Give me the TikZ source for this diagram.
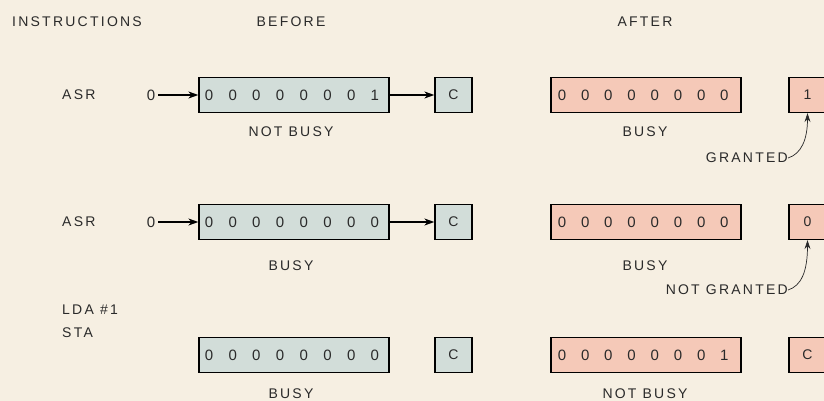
\documentclass[tikz,border=0pt]{standalone}
\usepackage{fontspec}
\setmainfont{Liberation Sans}[LetterSpace=16]
\usetikzlibrary{arrows.meta}
\definecolor{bg}{HTML}{F6EFE2}
\definecolor{bluefill}{HTML}{D2DDD9}
\definecolor{pinkfill}{HTML}{F5C9B8}
\definecolor{ink}{HTML}{2A2A2A}
\begin{document}
\begin{tikzpicture}[x=1pt,y=-1pt,
  lbl/.style={font=\fontsize{14}{14}\selectfont, text=ink, inner sep=0pt},
  dig/.style={font=\fontsize{15}{15}\selectfont, text=ink, inner sep=0pt},
  regbox/.style={draw=black, line width=1.3pt, minimum width=190pt, minimum height=35pt, inner sep=0pt},
  cbox/.style={draw=black, line width=1.3pt, minimum width=37pt, minimum height=35pt, inner sep=0pt, font=\fontsize{14}{14}\selectfont, text=ink},
  bl/.style={fill=bluefill},
  pk/.style={fill=pinkfill},
  arr/.style={draw=black, line width=1.4pt, -{Stealth[length=10pt,width=7pt]}},
  thinarr/.style={draw=ink, line width=0.7pt, -{Stealth[length=9pt,width=6pt]}}]
\useasboundingbox[fill=bg] (0,0) rectangle (824,401);
\clip (0,0) rectangle (824,401);

% headers
\node[lbl, anchor=west] (hins) at (12,22) {INSTRUCTIONS};
\node[lbl] (hbef) at (291,22) {BEFORE};
\node[lbl] (haft) at (645,22) {AFTER};

% ---------- row 1 ----------
\node[lbl, anchor=west] (i1) at (62,95) {ASR};
\node[dig] (z1) at (151,95) {0};
\node[regbox, bl] (b1) at (294,95) {};
\node[cbox, bl] (c1) at (453.5,95) {C};
\node[regbox, pk] (a1) at (646,95) {};
\node[cbox, pk] (r1) at (807.5,95) {1};
\draw[arr] (z1.east) ++(3,0) coordinate (z1e) (z1e) -- (b1.west);
\draw[arr] (b1.east) -- (c1.west);
\foreach \d [count=\i from 0] in {0,0,0,0,0,0,0,1}
  \node[dig] (b1d\i) at (209+\i*23.7,95) {\d};
\foreach \d [count=\i from 0] in {0,0,0,0,0,0,0,0}
  \node[dig] (a1d\i) at (562+\i*23.2,95) {\d};
\node[lbl] (s1b) at (291,132) {NOT BUSY};
\node[lbl] (s1a) at (645,132) {BUSY};
\node[lbl, anchor=east] (g1) at (788,158) {GRANTED};
\draw[thinarr] (g1.east) .. controls (801,154) and (807.5,140) .. (r1.south);

% ---------- row 2 ----------
\node[lbl, anchor=west] (i2) at (62,222) {ASR};
\node[dig] (z2) at (151,222) {0};
\node[regbox, bl] (b2) at (294,222) {};
\node[cbox, bl] (c2) at (453.5,222) {C};
\node[regbox, pk] (a2) at (646,222) {};
\node[cbox, pk] (r2) at (807.5,222) {0};
\draw[arr] (z2.east) ++(3,0) coordinate (z2e) (z2e) -- (b2.west);
\draw[arr] (b2.east) -- (c2.west);
\foreach \d [count=\i from 0] in {0,0,0,0,0,0,0,0}
  \node[dig] (b2d\i) at (209+\i*23.7,222) {\d};
\foreach \d [count=\i from 0] in {0,0,0,0,0,0,0,0}
  \node[dig] (a2d\i) at (562+\i*23.2,222) {\d};
\node[lbl] (s2b) at (291,266) {BUSY};
\node[lbl] (s2a) at (645,266) {BUSY};
\node[lbl, anchor=east] (g2) at (788,290) {NOT GRANTED};
\draw[thinarr] (g2.east) .. controls (801,286) and (807.5,272) .. (r2.south);

% ---------- row 3 ----------
\node[lbl, anchor=west] (i3a) at (62,310) {LDA \#1};
\node[lbl, anchor=west] (i3b) at (62,333) {STA};
\node[regbox, bl] (b3) at (294,355) {};
\node[cbox, bl] (c3) at (453.5,355) {C};
\node[regbox, pk] (a3) at (646,355) {};
\node[cbox, pk] (r3) at (807.5,355) {C};
\foreach \d [count=\i from 0] in {0,0,0,0,0,0,0,0}
  \node[dig] (b3d\i) at (209+\i*23.7,355) {\d};
\foreach \d [count=\i from 0] in {0,0,0,0,0,0,0,1}
  \node[dig] (a3d\i) at (562+\i*23.2,355) {\d};
\node[lbl] (s3b) at (291,394) {BUSY};
\node[lbl] (s3a) at (645,394) {NOT BUSY};
\end{tikzpicture}
\end{document}
